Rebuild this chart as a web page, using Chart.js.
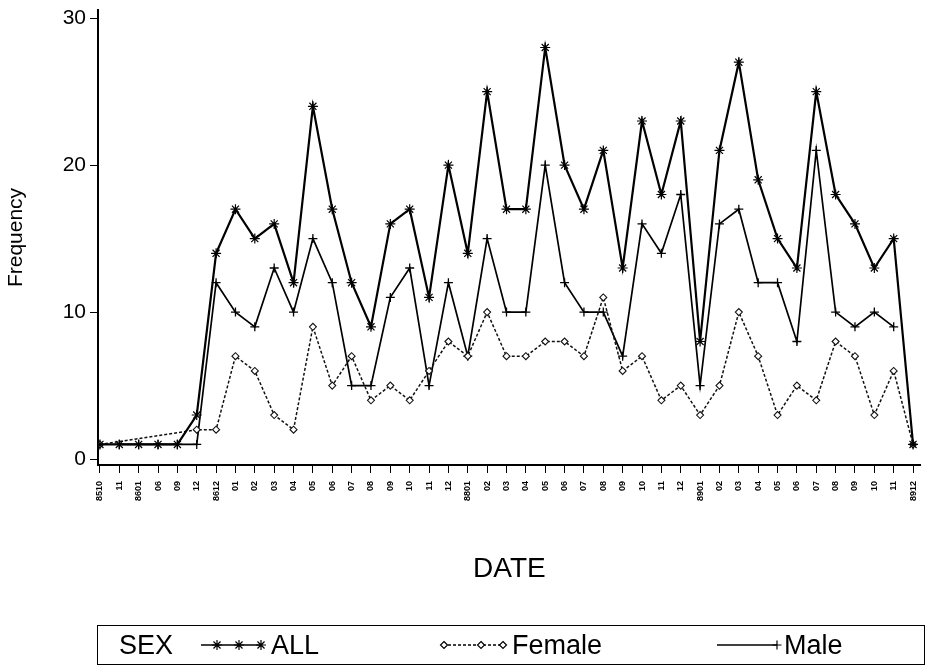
<!DOCTYPE html>
<html><head><meta charset="utf-8">
<script src="https://cdn.jsdelivr.net/npm/chart.js@4.4.1/dist/chart.umd.min.js"></script>
<style>
html,body{margin:0;padding:0;background:#fff;}
#wrap{position:relative;width:927px;height:667px;overflow:hidden;background:#fff;}
#c{position:absolute;left:0;top:0;}
#legend{position:absolute;left:97px;top:625px;width:826px;height:38px;border:1.5px solid #000;font-family:"Liberation Sans",Arial,sans-serif;font-size:27px;color:#000;}
.lt{position:absolute;top:0;line-height:38px;}
.sw{position:absolute;top:9px;}
</style></head>
<body><div id="wrap"><canvas id="c" width="927" height="667"></canvas>
<div id="legend"></div></div>
<script>
// ---- data ----
const dateLabels = ["8510","11","8601","06","09","12","8612","01","02","03","04","05","06","07","08","09","10","11","12",
  "8801","02","03","04","05","06","07","08","09","10","11","12",
  "8901","02","03","04","05","06","07","08","09","10","11","8912"];
const allValues = [1,1,1,1,1,3,14,17,15,16,12,24,17,12,9,16,17,11,20,14,25,17,17,28,20,17,21,13,23,18,23,8,21,27,19,15,13,25,18,16,13,15,1];
const maleValues = [null,1,1,1,1,1,12,10,9,13,10,15,12,5,5,11,13,5,12,7,15,10,10,20,12,10,10,7,16,14,18,5,16,17,12,12,8,21,10,9,10,9,null];
const femaleValues = [1,null,null,null,null,2,2,7,6,3,2,9,5,7,4,5,4,6,8,7,10,7,7,8,8,7,11,6,7,4,5,3,5,10,7,3,5,4,8,7,3,6,1];
const yTicks = [0,10,20,30];
const seriesNames = ["ALL","Female","Male"];
const legendTitle = "SEX";

const toXY = arr => arr.map((v,i)=>({x:i,y:v}));
const FONT = '"Liberation Sans", Arial, sans-serif';
const NARROW = '"Liberation Sans Narrow", "Liberation Sans", Arial, sans-serif';

new Chart(document.getElementById('c'), {
  type: 'line',
  data: {
    datasets: [
      {label: seriesNames[0], data: toXY(allValues), borderColor:'#000', borderWidth:2.2,
       pointStyle:'star', pointRadius:5, pointBorderWidth:1.2, pointBorderColor:'#000', pointBackgroundColor:'#000', tension:0},
      {label: seriesNames[1], data: toXY(femaleValues), borderColor:'#111', borderWidth:1.5, borderDash:[3,2], spanGaps:true,
       pointStyle:'rectRot', pointRadius:3.5, pointBorderWidth:1.1, pointBorderColor:'#111', pointBackgroundColor:'#fff', tension:0},
      {label: seriesNames[2], data: toXY(maleValues), borderColor:'#000', borderWidth:1.7,
       pointStyle:'cross', pointRadius:4.5, pointBorderWidth:1.3, pointBorderColor:'#000', tension:0}
    ]
  },
  options: {
    responsive:false, animation:false, devicePixelRatio:1,
    layout:{padding:{left:0,top:10,right:2,bottom:72}},
    plugins:{legend:{display:false}, tooltip:{enabled:false}},
    scales:{
      x:{type:'linear', min:-0.1, max:42.4,
        afterBuildTicks: s => { s.ticks = dateLabels.map((_,i)=>({value:i})); },
        afterFit: s => { s.height = 130; s.paddingLeft = 0; s.paddingRight = 0; },
        ticks:{autoSkip:false, maxRotation:90, minRotation:90, padding:8, color:'#000',
          font:{family:FONT, size:9, weight:'bold'}, callback: v => dateLabels[v]},
        grid:{drawOnChartArea:false, drawTicks:true, tickLength:8, color:'#000', lineWidth:1},
        border:{display:true, color:'#000', width:2},
        title:{display:true, text:'DATE', color:'#000', font:{family:FONT, size:28}, padding:{top:0,bottom:9}}
      },
      y:{type:'linear', min:-0.4, max:30.55,
        afterBuildTicks: s => { s.ticks = yTicks.map(v=>({value:v})); },
        afterFit: s => { s.width = 98; s.paddingTop = 0; s.paddingBottom = 0; },
        ticks:{padding:4, color:'#000', font:{family:FONT, size:21}},
        grid:{drawOnChartArea:false, drawTicks:true, tickLength:8, color:'#000', lineWidth:1},
        border:{display:true, color:'#000', width:2},
        title:{display:true, text:'Frequency', color:'#000', font:{family:NARROW, size:21}, padding:{top:4,bottom:0}}
      }
    }
  }
});

// ---- legend (HTML) ----
const lg = document.getElementById('legend');
function addText(t, left){ const s=document.createElement('span'); s.className='lt'; s.textContent=t; s.style.left=left+'px'; lg.appendChild(s); }
function marker(ctx, style, x, y){
  ctx.save(); ctx.setLineDash([]); ctx.strokeStyle='#000'; ctx.lineWidth=1.2;
  if(style==='star'){ const r=5; ctx.beginPath();
    ctx.moveTo(x-r,y);ctx.lineTo(x+r,y);ctx.moveTo(x,y-r);ctx.lineTo(x,y+r);
    const d=r*0.707; ctx.moveTo(x-d,y-d);ctx.lineTo(x+d,y+d);ctx.moveTo(x-d,y+d);ctx.lineTo(x+d,y-d); ctx.stroke(); }
  else if(style==='cross'){ const r=4.5; ctx.beginPath(); ctx.moveTo(x-r,y);ctx.lineTo(x+r,y);ctx.moveTo(x,y-r);ctx.lineTo(x,y+r); ctx.stroke(); }
  else { const r=3.5; ctx.fillStyle='#fff'; ctx.beginPath(); ctx.moveTo(x,y-r);ctx.lineTo(x+r,y);ctx.lineTo(x,y+r);ctx.lineTo(x-r,y);ctx.closePath(); ctx.fill(); ctx.stroke(); }
  ctx.restore();
}
function addSwatch(left, style, dash, lw, marks){
  const c=document.createElement('canvas'); c.width=70; c.height=20; c.className='sw'; c.style.left=left+'px'; lg.appendChild(c);
  const ctx=c.getContext('2d'); ctx.strokeStyle='#000'; ctx.lineWidth=lw; ctx.setLineDash(dash);
  ctx.beginPath(); ctx.moveTo(4,10); ctx.lineTo(64,10); ctx.stroke();
  marks.forEach(m=>marker(ctx, style, m, 10));
}
addText(legendTitle, 21);
addSwatch(99, 'star', [], 1.5, [20,42,64]);
addText(seriesNames[0], 173);
addSwatch(341, 'rectRot', [3,2], 1.3, [5,42,64]);
addText(seriesNames[1], 414);
addSwatch(615, 'cross', [], 1.5, [64]);
addText(seriesNames[2], 686);
</script>
</body></html>
